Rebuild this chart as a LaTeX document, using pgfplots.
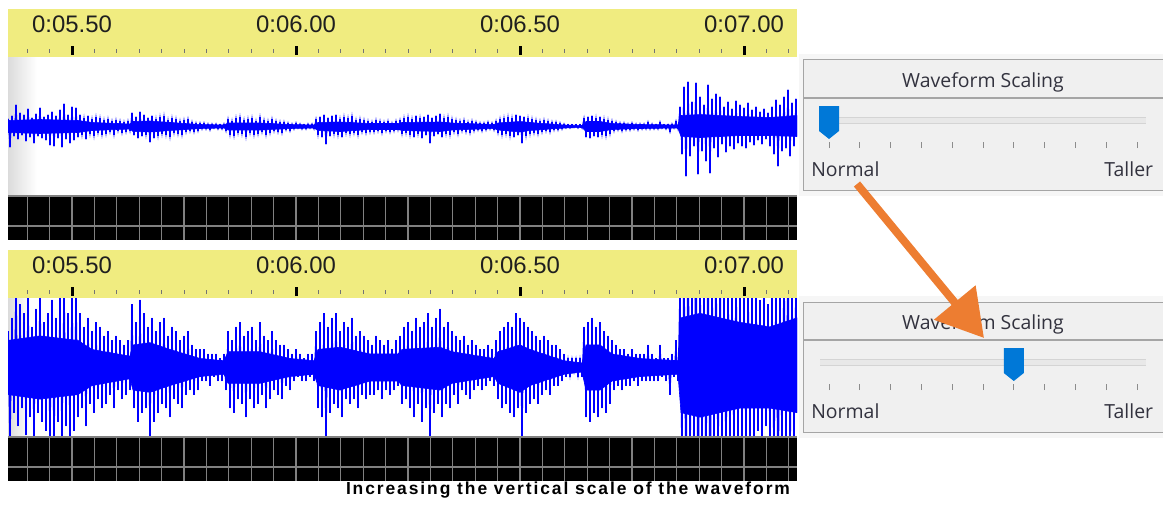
\documentclass[border=0pt]{standalone}
\usepackage{pgfplots}
\pgfplotsset{compat=1.18}
\usepackage{pgfplotstable}
\usepackage{fontspec}
\setmainfont{Liberation Sans}
\newfontfamily\uifont{Open Sans}
\newfontfamily\capfont[LetterSpace=11]{Liberation Sans}
\usetikzlibrary{arrows.meta}

\definecolor{rulerY}{RGB}{240,236,128}
\definecolor{waveB}{RGB}{0,0,255}
\definecolor{panelBg}{RGB}{240,240,240}
\definecolor{panelOut}{RGB}{246,246,246}
\definecolor{panelLine}{RGB}{165,165,165}
\definecolor{thumbBlue}{RGB}{0,120,215}
\definecolor{arrowOr}{RGB}{237,125,49}
\definecolor{uiText}{RGB}{50,50,62}

\pgfdeclareplotmark{thumb}{%
  \pgfpathmoveto{\pgfpoint{-10bp}{14bp}}%
  \pgfpathlineto{\pgfpoint{10bp}{14bp}}%
  \pgfpathlineto{\pgfpoint{10bp}{-11bp}}%
  \pgfpathlineto{\pgfpoint{0bp}{-19bp}}%
  \pgfpathlineto{\pgfpoint{-10bp}{-11bp}}%
  \pgfpathclose
  \pgfusepath{fill}}

% dense core of the waveform: upper envelope left to right, lower envelope back (normal scale)
\pgfplotstableread[row sep=\\]{x y\\
8 6\\40 7\\78 6\\92 4\\130 2.5\\133 5\\150 5.5\\170 4\\200 2\\224 1.5\\228 3.5\\260 3.5\\
290 2\\314 1.5\\318 4\\340 4.5\\370 3\\398 3\\402 4\\440 4.5\\452 3.5\\494 2\\498 3.5\\520 5\\
530 4\\564 1.5\\582 1\\586 5\\600 5\\612 3\\640 2\\678 1.5\\681 11\\700 12\\740 10\\770 9\\797 11\\
797 -10\\770 -9\\740 -9\\700 -11\\681 -10\\678 -1.5\\640 -2\\612 -3\\600 -5\\586 -5\\
582 -1\\564 -1.5\\530 -4\\520 -5.5\\498 -3.5\\494 -2\\452 -3.5\\440 -5\\402 -4\\398 -3\\370 -3\\
340 -5\\318 -4\\314 -1.5\\290 -2\\260 -3.5\\228 -3.5\\224 -1.5\\200 -2\\170 -4\\150 -5.5\\133 -5\\
130 -2.5\\92 -4\\78 -6\\40 -7\\8 -6\\
}\coredata

% waveform peaks (x in screen columns, y = peak amplitude at normal scale)
\pgfplotstableread[row sep=\\]{x y\\
8 8\\10 -21\\12 11\\14 -10\\16 22\\18 -13\\20 14\\22 -9\\24 12\\26 -15\\
28 18\\30 -11\\32 9\\34 -17\\36 13\\38 -10\\40 19\\42 -12\\44 10\\46 -14\\
48 12\\50 -19\\52 15\\54 -20\\56 11\\58 -12\\60 17\\62 -21\\64 23\\66 -13\\
68 12\\70 -17\\72 20\\74 -14\\76 19\\78 -11\\
80 12\\82 -9\\84 9\\86 -13\\88 11\\90 -8\\92 8\\94 -10\\96 10\\98 -7\\
100 9\\102 -9\\104 7\\106 -8\\108 8\\110 -6\\112 6\\114 -9\\116 7\\118 -5\\
120 6\\122 -7\\124 5\\126 -6\\128 6\\130 -5\\
132 14\\134 -9\\136 10\\138 -12\\140 15\\142 -10\\144 12\\146 -9\\148 9\\150 -16\\
152 11\\154 -12\\156 8\\158 -10\\160 10\\162 -8\\164 11\\166 -9\\168 7\\170 -11\\
172 9\\174 -7\\176 8\\178 -8\\180 6\\182 -9\\184 7\\186 -6\\188 8\\190 -5\\
192 5\\194 -6\\196 4\\198 -5\\200 4\\
202 -3\\204 4\\206 -3\\208 3\\210 -4\\212 3\\214 -2\\216 3\\218 -3\\220 2\\222 -3\\224 3\\
226 -5\\228 8\\230 -9\\232 6\\234 -10\\236 9\\238 -7\\240 10\\242 -8\\244 7\\
246 -11\\248 8\\250 -7\\252 9\\254 -9\\256 6\\258 -8\\260 10\\262 -6\\264 7\\
266 -9\\268 6\\270 -7\\272 8\\274 -5\\276 6\\278 -6\\280 5\\282 -7\\284 5\\286 -4\\288 4\\290 -5\\
292 3\\294 -3\\296 4\\298 -2\\300 3\\302 -3\\304 2\\306 -3\\308 3\\310 -2\\312 3\\314 -3\\
316 8\\318 -9\\320 10\\322 -11\\324 12\\326 -18\\328 9\\330 -10\\332 11\\334 -8\\
336 12\\338 -9\\340 8\\342 -11\\344 10\\346 -7\\348 9\\350 -8\\352 11\\354 -7\\
356 7\\358 -9\\360 8\\362 -6\\364 7\\366 -7\\368 6\\370 -6\\
372 5\\374 -6\\376 7\\378 -5\\380 6\\382 -7\\384 5\\386 -5\\388 6\\390 -6\\392 4\\394 -5\\396 6\\398 -4\\
400 7\\402 -8\\404 9\\406 -7\\408 10\\410 -9\\412 8\\414 -11\\416 11\\418 -8\\
420 9\\422 -12\\424 10\\426 -9\\428 12\\430 -17\\432 9\\434 -10\\436 11\\438 -8\\
440 13\\442 -11\\444 9\\446 -8\\448 10\\450 -9\\
452 8\\454 -6\\456 7\\458 -8\\460 6\\462 -5\\464 7\\466 -6\\468 5\\470 -7\\
472 6\\474 -5\\476 5\\478 -4\\480 4\\482 -5\\484 4\\486 -4\\488 5\\490 -3\\492 4\\494 -4\\
496 6\\498 -7\\500 8\\502 -9\\504 9\\506 -8\\508 10\\510 -10\\512 9\\514 -11\\
516 12\\518 -9\\520 11\\522 -17\\524 10\\526 -10\\528 9\\530 -8\\
532 8\\534 -7\\536 7\\538 -8\\540 6\\542 -6\\544 7\\546 -5\\548 6\\550 -6\\
552 5\\554 -4\\556 5\\558 -4\\560 4\\562 -3\\564 3\\
566 -2\\568 2\\570 -2\\572 2\\574 -1\\576 2\\578 -2\\580 2\\582 -2\\
584 9\\586 -11\\588 10\\590 -12\\592 11\\594 -10\\596 9\\598 -11\\600 10\\602 -9\\
604 8\\606 -10\\608 7\\610 -8\\612 6\\
614 -5\\616 5\\618 -4\\620 4\\622 -5\\624 4\\626 -4\\628 3\\630 -4\\632 4\\
634 -3\\636 3\\638 -4\\640 3\\642 -3\\644 3\\646 -3\\648 5\\650 -3\\652 3\\
654 -3\\656 2\\658 -3\\660 5\\662 -2\\664 2\\666 -3\\668 2\\670 -6\\672 3\\674 -2\\676 6\\678 -3\\
680 20\\682 -28\\684 40\\686 -50\\688 45\\690 -30\\692 25\\694 -20\\696 44\\698 -48\\
700 30\\702 -25\\704 22\\706 -35\\708 42\\710 -47\\712 28\\714 -22\\716 33\\718 -31\\
720 30\\722 -18\\724 20\\726 -26\\728 25\\730 -20\\732 18\\734 -23\\736 26\\738 -17\\
740 22\\742 -20\\744 19\\746 -22\\748 24\\750 -16\\752 17\\754 -19\\756 20\\758 -14\\
760 15\\762 -18\\764 18\\766 -13\\768 14\\770 -20\\772 20\\774 -28\\776 27\\778 -40\\
780 22\\782 -25\\784 30\\786 -22\\788 37\\790 -30\\792 24\\794 -20\\796 28\\
}\wavedata

\pgfplotsset{
  ruler/.style={scale only axis, width=789bp, height=48bp, anchor=north west,
    xmin=8, xmax=797, ymin=0, ymax=1,
    axis background/.style={fill=rulerY},
    axis x line*=bottom, axis y line=none, x axis line style={draw=none},
    xtick={72,296,520,744},
    xticklabels={0:05.50,0:06.00,0:06.50,0:07.00},
    minor xtick={27.2,49.6,94.4,116.8,139.2,161.6,184,206.4,228.8,251.2,273.6,
      318.4,340.8,363.2,385.6,408,430.4,452.8,475.2,497.6,542.4,564.8,587.2,609.6,
      632,654.4,676.8,699.2,721.6,766.4,788.8},
    tick align=inside, major tick length=9bp, minor tick length=4bp,
    major tick style={black, line width=3bp, yshift=2bp},
    minor tick style={black!55, line width=1bp, yshift=4bp},
    xticklabel style={anchor=base, yshift=25bp, font=\fontsize{24}{26}\selectfont, text=black!88}},
  wave/.style={scale only axis, width=789bp, height=139bp, anchor=north west,
    xmin=8, xmax=797, axis lines=none, clip=true},
  strip/.style={scale only axis, width=789bp, height=44bp, anchor=north west,
    xmin=8, xmax=797, ymin=0, ymax=44,
    axis background/.style={fill=black},
    axis line style={draw=none},
    xtick={27.2,49.6,72,94.4,116.8,139.2,161.6,184,206.4,228.8,251.2,273.6,296,
      318.4,340.8,363.2,385.6,408,430.4,452.8,475.2,497.6,520,542.4,564.8,587.2,609.6,
      632,654.4,676.8,699.2,721.6,744,766.4,788.8},
    ytick={14,44}, xticklabels={}, yticklabels={}, major tick length=0pt,
    grid=major, grid style={draw=black!50, line width=1.3bp}},
  slider/.style={scale only axis, width=308bp, height=50bp, anchor=north west,
    xmin=0, xmax=10, ymin=0, ymax=50,
    axis x line*=bottom, axis y line=none, x axis line style={draw=none},
    xtick={0,1,...,10}, xticklabels={},
    tick align=inside, major tick length=6bp,
    major tick style={black!45, line width=1bp, yshift=2bp}, clip=false},
  spikes/.style={ycomb, waveB, line width=1.8bp},
  zig/.style={waveB, line width=0.8bp},
  core/.style={fill=waveB, draw=waveB, line width=0.6bp},
}

\begin{document}
\begin{tikzpicture}
\path[use as bounding box] (0bp,0bp) rectangle (1163bp,-510bp);

% ---------- widget frames ----------
\begin{scope}[x=1bp,y=-1bp]
  \fill[panelOut] (799,54) rectangle (1175,196);
  \fill[panelBg] (803.5,59.5) rectangle (1175,190.5);
  \draw[panelLine, line width=1.3bp] (803.5,59.5) rectangle (1175,190.5);
  \draw[panelLine, line width=1.3bp] (803.5,98) -- (1175,98);
  \node[font=\uifont\fontsize{19.5}{22}\selectfont, text=uiText, anchor=base] at (983,87) {Waveform Scaling};

  \fill[panelOut] (799,296) rectangle (1175,438);
  \fill[panelBg] (803.5,302.5) rectangle (1175,432.5);
  \draw[panelLine, line width=1.3bp] (803.5,302.5) rectangle (1175,432.5);
  \draw[panelLine, line width=1.3bp] (803.5,340) -- (1175,340);
  \node[font=\uifont\fontsize{19.5}{22}\selectfont, text=uiText, anchor=base] at (983,329) {Waveform Scaling};
\end{scope}

% ---------- top panel ----------
\begin{axis}[ruler, at={(8bp,-9bp)}]
\end{axis}
\begin{axis}[wave, at={(8bp,-57bp)}, ymin=-69.5, ymax=69.5]
  \fill[left color=black!14, right color=white] (axis cs:8,-69.5) rectangle (axis cs:37,69.5);
  \addplot[core] table[x=x, y=y] {\coredata} -- cycle;
  \addplot[zig] table[x=x, y=y] {\wavedata};
  \addplot[spikes] table[x=x, y=y] {\wavedata};
\end{axis}
\begin{axis}[strip, at={(8bp,-196bp)}]
\end{axis}

% ---------- bottom panel (taller scaling) ----------
\begin{axis}[ruler, at={(8bp,-250bp)}]
\end{axis}
\begin{axis}[wave, at={(8bp,-298bp)}, ymin=-15.4, ymax=15.4]
  \fill[left color=black!14, right color=white] (axis cs:8,-15.4) rectangle (axis cs:30,15.4);
  \addplot[core] table[x=x, y=y] {\coredata} -- cycle;
  \addplot[zig] table[x=x, y=y] {\wavedata};
  \addplot[spikes] table[x=x, y=y] {\wavedata};
\end{axis}
\begin{axis}[strip, at={(8bp,-437bp)}]
\end{axis}

% ---------- sliders ----------
\begin{axis}[slider, at={(829bp,-100bp)}]
  \addplot[draw=black!17, line width=7bp] coordinates {(-0.29,30) (10.29,30)};
  \addplot[draw=black!9, line width=5bp] coordinates {(-0.29,30) (10.29,30)};
  \addplot[only marks, mark=thumb, mark options={fill=thumbBlue, draw=none}] coordinates {(0,30)};
  \node[font=\uifont\fontsize{19.5}{22}\selectfont, text=uiText, anchor=base west, inner sep=0pt] at (axis cs:-0.58,-26.7) {Normal};
  \node[font=\uifont\fontsize{19.5}{22}\selectfont, text=uiText, anchor=base east, inner sep=0pt] at (axis cs:10.53,-26.7) {Taller};
\end{axis}
\begin{axis}[slider, at={(829bp,-342bp)}]
  \addplot[draw=black!17, line width=7bp] coordinates {(-0.29,30) (10.29,30)};
  \addplot[draw=black!9, line width=5bp] coordinates {(-0.29,30) (10.29,30)};
  \addplot[only marks, mark=thumb, mark options={fill=thumbBlue, draw=none}] coordinates {(6,30)};
  \node[font=\uifont\fontsize{19.5}{22}\selectfont, text=uiText, anchor=base west, inner sep=0pt] at (axis cs:-0.58,-26.7) {Normal};
  \node[font=\uifont\fontsize{19.5}{22}\selectfont, text=uiText, anchor=base east, inner sep=0pt] at (axis cs:10.53,-26.7) {Taller};
\end{axis}

% ---------- arrow and caption ----------
\begin{scope}[x=1bp,y=-1bp]
  \draw[arrowOr, line width=8bp, -{Triangle[length=46bp, width=52bp]}] (857,184) -- (984,338);
  \node[font=\capfont\bfseries\fontsize{17.5}{20}\selectfont, anchor=base] at (568,494) {Increasing the vertical scale of the waveform};
\end{scope}
\end{tikzpicture}
\end{document}
